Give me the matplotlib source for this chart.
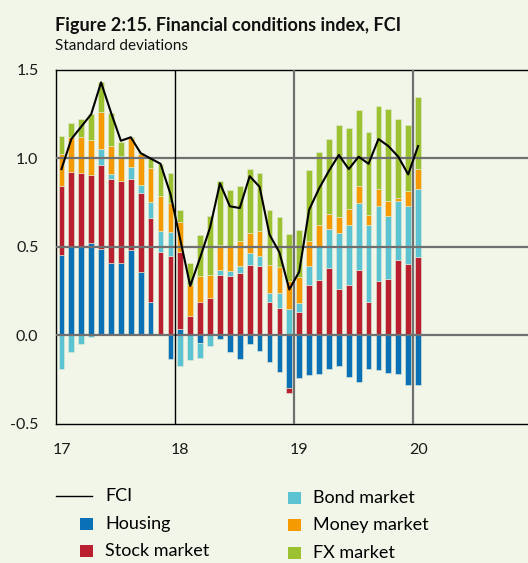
import numpy as np
import matplotlib.pyplot as plt
from matplotlib.patches import Rectangle
from matplotlib.lines import Line2D

plt.rcParams['font.family'] = ['Lato', 'DejaVu Sans']

# monthly data, Jan 2017 - Jan 2020
housing = [0.453, 0.500, 0.504, 0.523, 0.491, 0.409, 0.409, 0.485, 0.358, 0.187, 0.009, -0.132,
           0.036, 0.000, -0.040, 0.000, -0.021, -0.096, -0.132, -0.049, -0.087, -0.147, -0.204, -0.294,
           -0.238, -0.226, -0.215, -0.189, -0.172, -0.236, -0.260, -0.189, -0.194, -0.213, -0.215, -0.279,
           -0.279]
stock = [0.394, 0.421, 0.413, 0.381, 0.471, 0.476, 0.466, 0.398, 0.446, 0.479, 0.461, 0.447,
         0.434, 0.108, 0.187, 0.209, 0.343, 0.334, 0.353, 0.396, 0.391, 0.187, 0.158, -0.029,
         0.130, 0.287, 0.311, 0.383, 0.260, 0.283, 0.368, 0.192, 0.306, 0.317, 0.428, 0.402,
         0.442]
bond = [-0.189, -0.096, -0.049, -0.006, 0.091, 0.026, 0.000, 0.070, 0.047, 0.089, 0.119, 0.136,
        -0.170, -0.138, -0.088, -0.062, 0.029, 0.030, 0.037, 0.070, 0.060, 0.053, 0.082, 0.149,
        0.053, 0.104, 0.187, 0.217, 0.317, 0.342, 0.379, 0.431, 0.424, 0.357, 0.330, 0.328,
        0.383]
money = [0.181, 0.202, 0.204, 0.198, 0.211, 0.159, 0.138, 0.160, 0.175, 0.190, 0.198, 0.166,
         0.172, 0.179, 0.147, 0.134, 0.141, 0.136, 0.146, 0.113, 0.138, 0.156, 0.145, 0.157,
         0.145, 0.141, 0.125, 0.089, 0.093, 0.088, 0.096, 0.060, 0.095, 0.084, 0.019, 0.089,
         0.117]
fx = [0.098, 0.079, 0.100, 0.147, 0.170, 0.185, 0.079, 0.006, 0.005, 0.055, 0.183, 0.170,
      0.069, 0.122, 0.236, 0.334, 0.357, 0.321, 0.307, 0.363, 0.330, 0.315, 0.285, 0.269,
      0.270, 0.404, 0.415, 0.419, 0.521, 0.462, 0.431, 0.468, 0.473, 0.523, 0.444, 0.368,
      0.403]
fci = [0.94, 1.11, 1.18, 1.25, 1.43, 1.26, 1.10, 1.12, 1.03, 1.00, 0.97, 0.80,
       0.54, 0.28, 0.44, 0.61, 0.86, 0.73, 0.72, 0.90, 0.84, 0.57, 0.47, 0.26,
       0.36, 0.71, 0.83, 0.93, 1.02, 0.94, 1.01, 0.97, 1.11, 1.07, 1.01, 0.91,
       1.07]

year_ticks = [17, 18, 19, 20]

series = [("Housing", housing, '#0A71B7'),
          ("Stock market", stock, '#B91F2F'),
          ("Bond market", bond, '#5CC3D3'),
          ("Money market", money, '#F59A00'),
          ("FX market", fx, '#9CC232')]

bg = '#F2F6E9'
fig = plt.figure(figsize=(5.28, 5.63), dpi=100, facecolor=bg)
ax = fig.add_axes([0.107, 0.2469, 0.9006, 0.6288])
ax.set_facecolor(bg)

n = len(fci)
x = 2017 + (np.arange(n) + 0.5) / 12
pos_bot = np.zeros(n)
neg_bot = np.zeros(n)
for name, vals, col in series:
    v = np.array(vals)
    bot = np.where(v >= 0, pos_bot, neg_bot)
    ax.bar(x, v, width=0.58 / 12, bottom=bot, color=col, edgecolor='#e4ecd6',
           linewidth=0.4, zorder=2)
    pos_bot = pos_bot + np.where(v > 0, v, 0)
    neg_bot = neg_bot + np.where(v < 0, v, 0)

for yv in [0, 0.5, 1.0]:
    ax.axhline(yv, color='#707070', lw=1.6, zorder=3)
ax.axvline(2018, color='black', lw=1.0, zorder=3)
for xv in [2019, 2020]:
    ax.axvline(xv, color='#707070', lw=1.6, zorder=3)

ax.plot(x, fci, color='black', lw=1.5, zorder=4)

ax.set_xlim(2017, 2021)
ax.set_ylim(-0.5, 1.5)
ax.set_yticks([-0.5, 0.0, 0.5, 1.0, 1.5])
ax.set_yticklabels(['-0.5', '0.0', '0.5', '1.0', '1.5'])
ax.set_xticks([2000 + y + 0.5 / 12 for y in year_ticks])
ax.set_xticklabels([str(y) for y in year_ticks])
ax.tick_params(length=0, labelsize=11.5, colors='#1a1a1a')
ax.tick_params(axis='y', pad=13)
ax.tick_params(axis='x', pad=14)
for s in ['left', 'top', 'bottom']:
    ax.spines[s].set_linewidth(1.0)
ax.spines['right'].set_visible(False)

fig.text(55 / 528, 1 - 25 / 563, "Figure 2:15. Financial conditions index, FCI",
         fontsize=13.1, fontweight='bold', va='center', ha='left', color='#111111')
fig.text(55 / 528, 1 - 46 / 563, "Standard deviations", fontsize=11,
         va='center', ha='left', color='#111111')

# legend
W, H = 528.0, 563.0
fig.add_artist(Line2D([56 / W, 92 / W], [1 - 496 / H, 1 - 496 / H], color='black', lw=1.0))
fig.text(105 / W, 1 - 496 / H, "FCI", fontsize=13, va='center', ha='left')
legend_pos = [(80, 524), (80, 551), (288, 498), (288, 525), (288, 553)]
for (name, vals, col), (lx, ly) in zip(series, legend_pos):
    fig.add_artist(Rectangle((lx / W, 1 - (ly + 6.3) / H), 12.7 / W, 12.6 / H,
                             facecolor=col, edgecolor='none'))
    fig.text((lx + 25) / W, 1 - ly / H, name, fontsize=13, va='center', ha='left')

fig.savefig('out.png', dpi=100, facecolor=bg)
